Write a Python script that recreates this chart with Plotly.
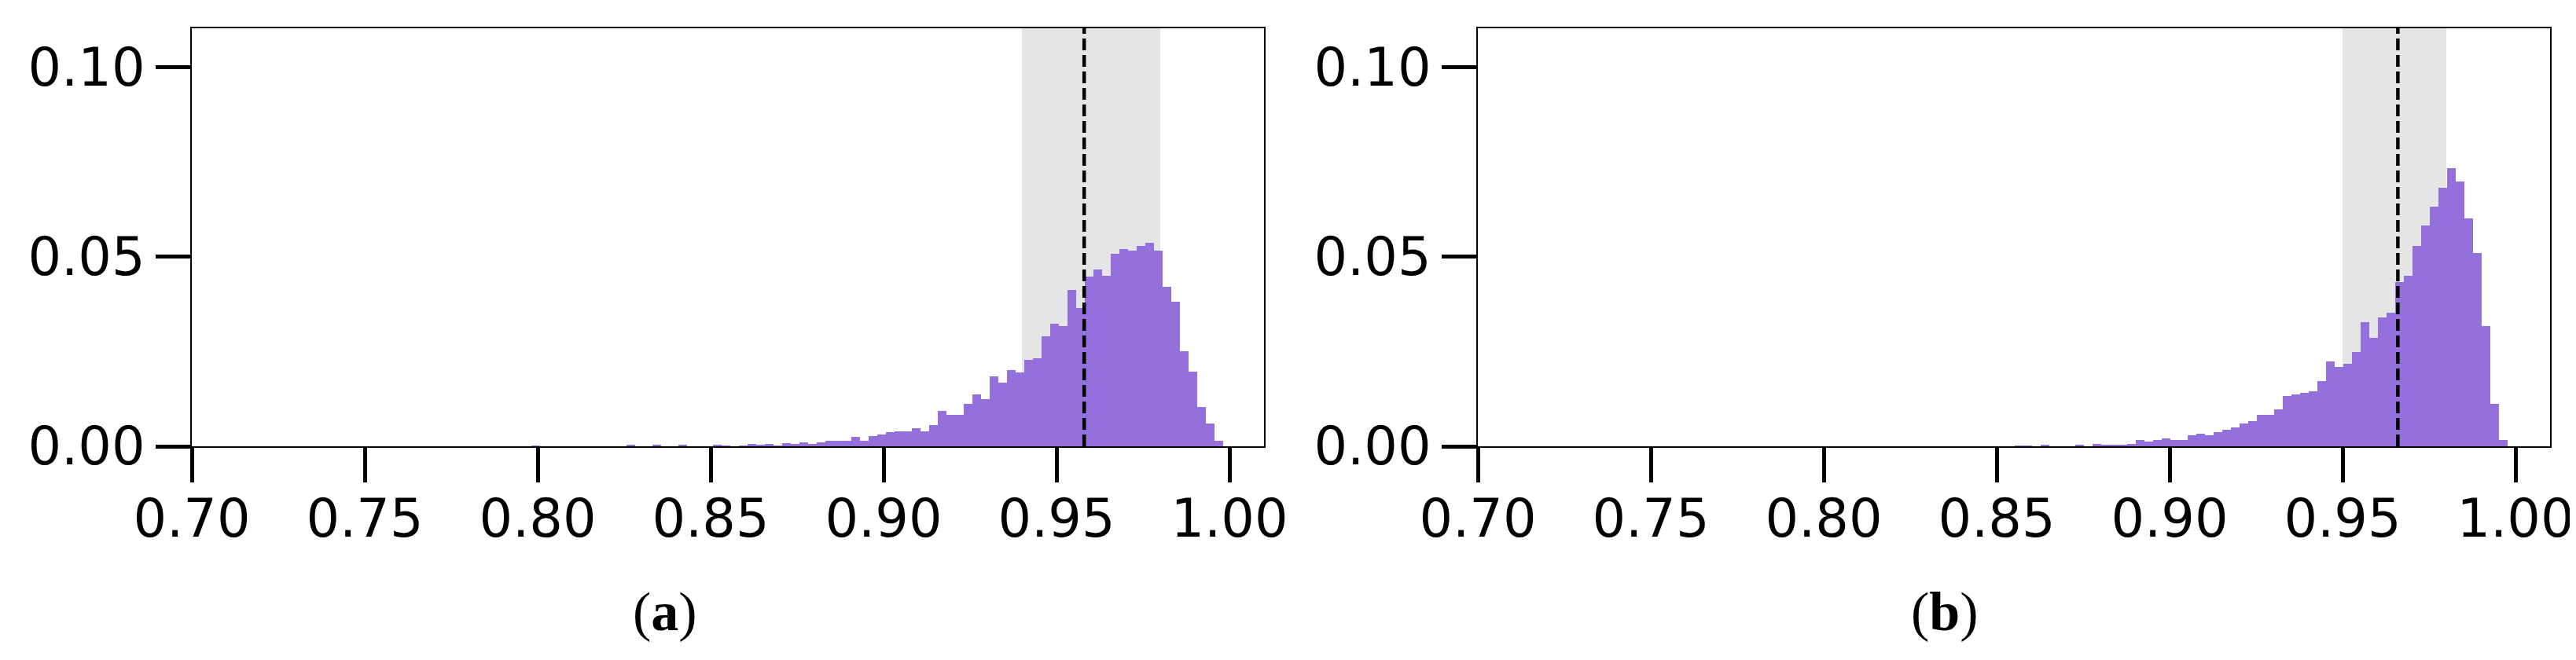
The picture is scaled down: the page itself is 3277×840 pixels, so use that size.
import plotly.graph_objects as go
from plotly.subplots import make_subplots

# histogram bins (width 0.0025), heights
BIN_WIDTH = 0.0025

A_FIRST_EDGE = 0.79815
A_HEIGHTS = [
    0.0001, 0, 0, 0, 0, 0, 0, 0, 0, 0,
    0, 0.00025, 0, 0, 0.00025, 0, 0, 0.00025, 0, 0,
    0, 0.0004, 0.0002, 0, 0.0002, 0.0006, 0.0004, 0.0006, 0.0002, 0.0008,
    0.0006, 0.0010, 0.0006, 0.0010, 0.0015, 0.0015, 0.0015, 0.0025, 0.0015, 0.0027,
    0.0032, 0.0038, 0.0040, 0.0039, 0.0047, 0.0040, 0.0055, 0.0094, 0.0082, 0.0082,
    0.0111, 0.0136, 0.0125, 0.0184, 0.0167, 0.0202, 0.0194, 0.0229, 0.0233, 0.0290,
    0.0323, 0.0318, 0.0412, 0.0364, 0.0447, 0.0466, 0.0449, 0.0507, 0.0520, 0.0517,
    0.0528, 0.0538, 0.0516, 0.0420, 0.0381, 0.0250, 0.0198, 0.0103, 0.0060, 0.0014,
]

B_FIRST_EDGE = 0.85532
B_HEIGHTS = [
    0.0002, 0.0002, 0, 0.0004, 0, 0, 0, 0.0004, 0, 0.0006,
    0.0004, 0.0004, 0.0004, 0.0007, 0.0016, 0.0012, 0.0016, 0.0020, 0.0016, 0.0017,
    0.0030, 0.0034, 0.0029, 0.0037, 0.0043, 0.0049, 0.0061, 0.0067, 0.0082, 0.0082,
    0.0097, 0.0132, 0.0136, 0.0142, 0.0146, 0.0173, 0.0223, 0.0210, 0.0217, 0.0248,
    0.0327, 0.0287, 0.0340, 0.0352, 0.0433, 0.0449, 0.0528, 0.0582, 0.0632, 0.0683,
    0.0733, 0.0698, 0.0601, 0.0511, 0.0318, 0.0111, 0.0016,
]

# shaded interval and dashed reference line per panel
A_BAND = (0.94, 0.98)
A_LINE = 0.958
B_BAND = (0.95, 0.98)
B_LINE = 0.966

X_TICKS = [0.70, 0.75, 0.80, 0.85, 0.90, 0.95, 1.00]
Y_TICKS = [0.00, 0.05, 0.10]
LABELS = ["(<b>a</b>)", "(<b>b</b>)"]

PURPLE = "#9370DB"
BAND_GREY = "#e5e5e5"
W, H = 3277, 840

fig = make_subplots(rows=1, cols=2)

panels = [
    (A_FIRST_EDGE, A_HEIGHTS, A_BAND, A_LINE),
    (B_FIRST_EDGE, B_HEIGHTS, B_BAND, B_LINE),
]
for col, (first, heights, band, vline) in enumerate(panels, start=1):
    centers = [first + (i + 0.5) * BIN_WIDTH for i in range(len(heights))]
    fig.add_trace(go.Bar(
        x=centers, y=heights, width=BIN_WIDTH,
        marker=dict(color=PURPLE, line=dict(width=0)),
        showlegend=False,
    ), row=1, col=col)
    fig.add_vrect(x0=band[0], x1=band[1], fillcolor=BAND_GREY, opacity=1,
                  layer="below", line_width=0, row=1, col=col)
    fig.add_vline(x=vline, line=dict(color="black", width=4.5, dash="15px,6px"),
                  layer="above", row=1, col=col)

tick_font = dict(family="DejaVu Sans", size=67, color="black")
axis_common = dict(
    showline=True, mirror=True, linecolor="black", linewidth=2,
    ticks="outside", ticklen=44, tickwidth=5, tickcolor="black",
    tickfont=tick_font, showgrid=False, zeroline=False, automargin=False,
)

# domains in pixels -> paper fraction
x_dom = [(236 / W, 1600 / W), (1872 / W, 3236 / W)]
y_dom = (1 - 560 / H, 1 - 28 / H)

for i, xd in enumerate(x_dom, start=1):
    fig.update_xaxes(domain=list(xd), range=[0.70, 1.01], tickvals=X_TICKS,
                     ticktext=[f"{v:.2f}" for v in X_TICKS], row=1, col=i,
                     ticklabelstandoff=-11, **axis_common)
    fig.update_yaxes(domain=list(y_dom), range=[0, 0.1103], tickvals=Y_TICKS,
                     ticktext=[f"{v:.2f}" for v in Y_TICKS], row=1, col=i,
                     **axis_common)

for lbl, xc in zip(LABELS, [838 / W, 2466 / W]):
    fig.add_annotation(x=xc, y=1 - 770 / H, xref="paper", yref="paper",
                       text=lbl, showarrow=False, xanchor="center",
                       yanchor="middle",
                       font=dict(family="Liberation Serif", size=70,
                                 color="black"))

fig.update_layout(
    width=W, height=H,
    margin=dict(l=0, r=0, t=0, b=0),
    paper_bgcolor="white", plot_bgcolor="white",
    bargap=0,
)

fig.write_html("out.html")
